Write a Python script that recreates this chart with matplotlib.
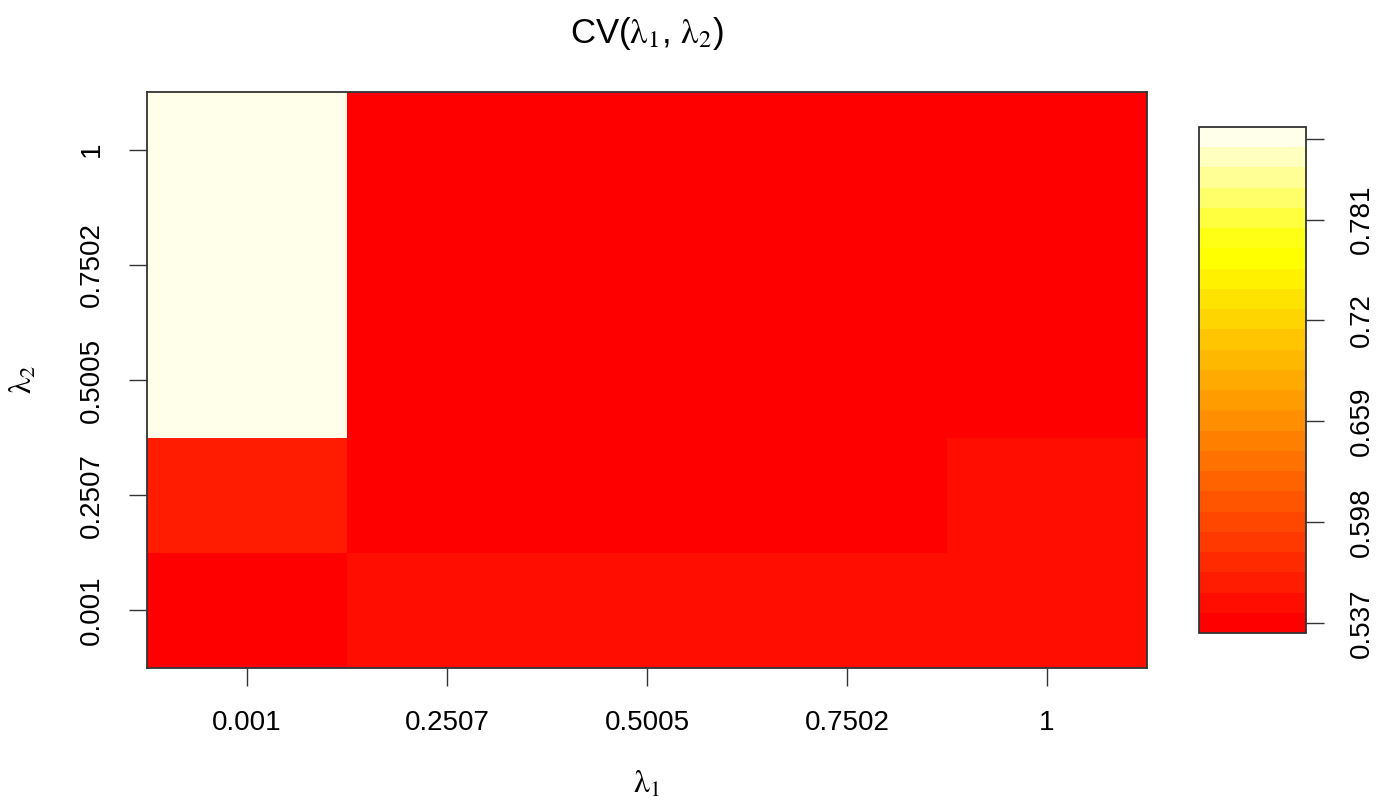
import colorsys
import numpy as np
import matplotlib
matplotlib.use("Agg")
import matplotlib.pyplot as plt
from matplotlib.colors import ListedColormap, Normalize

# ---- data ----
lambda1 = [0.001, 0.2507, 0.5005, 0.7502, 1]
lambda2 = [0.001, 0.2507, 0.5005, 0.7502, 1]
tick_labels = ["0.001", "0.2507", "0.5005", "0.7502", "1"]
# CV values, one list per lambda2 row (across lambda1)
cv_l2_0001 = [0.538, 0.548, 0.548, 0.548, 0.548]
cv_l2_02507 = [0.560, 0.537, 0.537, 0.537, 0.546]
cv_l2_05005 = [0.830, 0.537, 0.537, 0.537, 0.537]
cv_l2_07502 = [0.830, 0.537, 0.537, 0.537, 0.537]
cv_l2_1 = [0.830, 0.537, 0.537, 0.537, 0.537]
z_range = [0.531, 0.837]
cbar_ticks = [0.537, 0.598, 0.659, 0.72, 0.781, 0.830]
cbar_labels = ["0.537", "0.598", "0.659", "0.72", "0.781", ""]

# R heat.colors(n)
def heat_colors(n):
    j = n // 4
    i = n - j
    cols = []
    for h in np.linspace(0, 1 / 6, i):
        cols.append(colorsys.hsv_to_rgb(h, 1, 1))
    if j > 0:
        for s in np.linspace(1 - 1 / (2 * j), 1 / (2 * j), j):
            cols.append(colorsys.hsv_to_rgb(1 / 6, s, 1))
    return cols

cmap = ListedColormap(heat_colors(25))
norm = Normalize(vmin=z_range[0], vmax=z_range[1])

Z = np.array([cv_l2_0001, cv_l2_02507, cv_l2_05005, cv_l2_07502, cv_l2_1])

plt.rcParams["font.family"] = ["Liberation Sans", "DejaVu Sans"]
plt.rcParams["mathtext.fontset"] = "stix"

W, H = 1387, 800
fig = plt.figure(figsize=(W / 100, H / 100), dpi=100)
ax = fig.add_axes([147 / W, 1 - 668 / H, 1000 / W, 576 / H])

xi = np.arange(len(lambda1))
yi = np.arange(len(lambda2))
mesh = ax.pcolormesh(np.arange(len(lambda1) + 1) - 0.5,
                     np.arange(len(lambda2) + 1) - 0.5,
                     Z, cmap=cmap, norm=norm, shading="flat")
ax.set_xlim(-0.5, len(lambda1) - 0.5)
ax.set_ylim(-0.5, len(lambda2) - 0.5)
ax.set_xticks(xi)
ax.set_xticklabels(tick_labels)
ax.set_yticks(yi)
ax.set_yticklabels(tick_labels, rotation=90, va="center")
ax.tick_params(axis="both", direction="out", length=13, width=1.0,
               labelsize=20, pad=17, color="#333333")
for sp in ax.spines.values():
    sp.set_linewidth(1.3)
    sp.set_color("#333333")

fig.text(647 / W, 1 - 33 / H, r"CV($\mathrm{\lambda}_1$, $\mathrm{\lambda}_2$)",
         ha="center", va="center", fontsize=25)
fig.text(647 / W, 1 - 785 / H, r"$\mathrm{\lambda}_1$", ha="center", va="center",
         fontsize=23)
fig.text(24 / W, 1 - 380 / H, r"$\mathrm{\lambda}_2$", ha="center", va="center",
         fontsize=23, rotation=90)

cax = fig.add_axes([1199 / W, 1 - 633 / H, 107 / W, 506 / H])
cb = fig.colorbar(mesh, cax=cax)
cb.set_ticks(cbar_ticks)
cb.set_ticklabels(cbar_labels)
cax.tick_params(direction="out", length=13, width=1.0, labelsize=20, pad=18,
                color="#333333")
for lab in cax.get_yticklabels():
    lab.set_rotation(90)
    lab.set_va("center")
    lab.set_ha("left")
cb.outline.set_linewidth(1.3)
cb.outline.set_edgecolor("#333333")

fig.savefig("out.png", dpi=100)
